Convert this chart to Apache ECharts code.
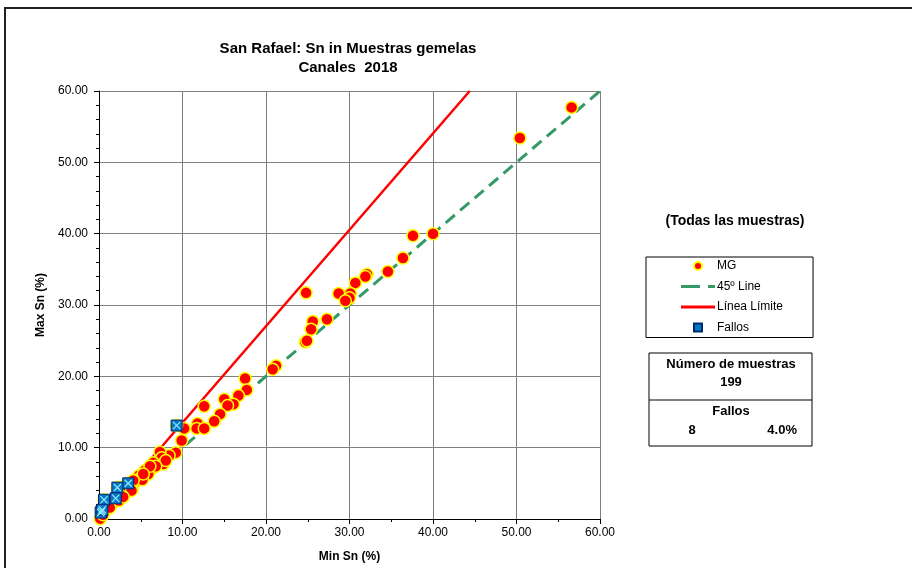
<!DOCTYPE html>
<html>
<head>
<meta charset="utf-8">
<script src="https://cdn.jsdelivr.net/npm/echarts@6/dist/echarts.min.js"></script>
<style>
  html, body { margin: 0; padding: 0; background: #fff; }
  #chart { width: 912px; height: 568px; }
</style>
</head>
<body>
<div id="chart"></div>
<script>
// Min Sn / Max Sn (%) of twin samples
const mgMin = [56.6, 50.4, 40.0, 37.6, 36.4, 34.6, 32.1, 31.9, 30.7, 30.1, 28.7, 30.0, 29.5, 24.8, 27.3, 25.6, 25.4, 24.7, 24.9,
  21.2, 20.8, 17.5, 17.7, 16.7, 15.0, 16.1, 15.4, 12.6, 14.5, 13.8, 11.8, 11.7, 12.6, 10.2,
  9.3, 9.9, 9.2, 8.4, 7.3, 7.5, 7.7, 6.5, 6.3, 5.5, 4.8, 4.8, 4.3, 3.5, 2.2, 2.8, 4.0, 3.2, 2.8, 2.0, 0.6,
  1.6, 1.0, 0.3, 0.15, 0.5, 1.3, 2.4, 3.6, 5.9, 8.0, 6.8, 5.2, 6.1, 5.3, 4.1, 3.9, 2.9]
const mgMax = [57.7, 53.4, 40.0, 39.7, 36.6, 34.7, 34.3, 34.0, 33.1, 31.6, 31.6, 31.0, 30.6, 31.7, 28.0, 27.7, 26.6, 24.8, 25.0,
  21.5, 21.0, 19.7, 18.1, 17.3, 16.8, 16.1, 15.9, 15.8, 14.7, 13.7, 13.4, 12.7, 12.7, 12.7,
  13.1, 11.0, 9.3, 8.9, 9.4, 8.6, 7.7, 7.9, 7.0, 6.8, 6.1, 5.6, 5.2, 5.0, 4.4, 4.5, 4.2, 3.8, 3.1, 2.9, 2.7,
  2.1, 1.4, 1.1, 0.05, 0.6, 1.6, 2.6, 4.0, 6.3, 8.2, 7.4, 5.5, 7.4, 6.3, 5.4, 4.0, 3.1]

const fallosMin = [9.3, 3.5, 2.2, 2.0, 0.6, 0.3, 0.2, 0.4]
const fallosMax = [13.1, 5.0, 4.4, 2.9, 2.7, 1.1, 0.9, 1.3]

const line45X = [0, 60]
const line45Y = [0, 60]
const limitX = [0, 44.4]
const limitY = [0, 60]

const axisTicks = [0, 10, 20, 30, 40, 50, 60]

const totalMuestras = 199
const totalFallos = 8

const FONT = 'Liberation Sans, Arial, sans-serif'

const pairs = (xs, ys) => xs.map((x, i) => [x, ys[i]])

const chart = echarts.init(document.getElementById('chart'))

const xPath = 'path://M1,0 L5,4 L9,0 L10,1 L6,5 L10,9 L9,10 L5,6 L1,10 L0,9 L4,5 L0,1 Z'
// legend icons
const dashIcon = 'path://M0,0 L19,0 L19,3 L0,3 Z M27,0 L34,0 L34,3 L27,3 Z'
const solidIcon = 'path://M0,0 L34,0 L34,3 L0,3 Z'
const squareIcon = 'path://M0,0 L7,0 L7,7 L0,7 Z'

const axisCommon = {
  type: 'value',
  min: axisTicks[0],
  max: axisTicks[axisTicks.length - 1],
  interval: 10,
  nameLocation: 'middle',
  nameTextStyle: { fontFamily: FONT, fontSize: 12, fontWeight: 'bold', color: '#000' },
  axisLine: { show: true, lineStyle: { color: '#000', width: 1 } },
  axisTick: { show: true, inside: false, length: 5, lineStyle: { color: '#000' } },
  minorTick: { show: true, length: 3, lineStyle: { color: '#000' } },
  splitLine: { show: true, lineStyle: { color: '#808080', width: 1 } },
  axisLabel: {
    fontFamily: FONT, fontSize: 12, color: '#000',
    formatter: (v) => v.toFixed(2)
  }
}

const option = {
  animation: false,
  backgroundColor: '#fff',
  title: {
    text: 'San Rafael: Sn in Muestras gemelas\nCanales  2018',
    left: 343,
    top: 34,
    textAlign: 'center',
    textStyle: { fontFamily: FONT, fontSize: 15, fontWeight: 'bold', color: '#000', lineHeight: 19 }
  },
  grid: { left: 99, right: 312, top: 91, bottom: 46 },
  xAxis: Object.assign({}, axisCommon, {
    name: 'Min Sn (%)',
    nameGap: 32,
    minorTick: Object.assign({}, axisCommon.minorTick, { splitNumber: 2 }),
    axisLabel: Object.assign({}, axisCommon.axisLabel, { margin: 8 })
  }),
  yAxis: Object.assign({}, axisCommon, {
    name: 'Max Sn (%)',
    nameGap: 48,
    minorTick: Object.assign({}, axisCommon.minorTick, { splitNumber: 5 }),
    axisLabel: Object.assign({}, axisCommon.axisLabel, { margin: 11 })
  }),
  legend: {
    orient: 'vertical',
    left: 646,
    top: 257,
    data: [
      { name: 'MG' },
      { name: '45º Line', icon: dashIcon },
      { name: 'Línea Límite', icon: solidIcon },
      { name: 'Fallos', icon: squareIcon }
    ],
    itemWidth: 34,
    itemHeight: 8,
    itemGap: 6.5,
    padding: [2, 30, 3, 35],
    borderColor: '#000',
    borderWidth: 1,
    borderRadius: 0,
    selectedMode: false,
    textStyle: { fontFamily: FONT, fontSize: 12, color: '#000', lineHeight: 14, padding: [0, 0, 0, -3] }
  },
  series: [
    {
      name: '45º Line',
      type: 'line',
      data: pairs(line45X, line45Y),
      showSymbol: false,
      symbol: 'none',
      z: 2,
      lineStyle: { color: '#339966', width: 3, type: [12, 7] },
      itemStyle: { color: '#339966' }
    },
    {
      name: 'Línea Límite',
      type: 'line',
      data: pairs(limitX, limitY),
      showSymbol: false,
      symbol: 'none',
      z: 2,
      lineStyle: { color: '#ff0000', width: 2.5 },
      itemStyle: { color: '#ff0000' }
    },
    {
      name: 'MG',
      type: 'scatter',
      data: pairs(mgMin, mgMax),
      symbol: 'circle',
      symbolSize: 12,
      z: 3,
      itemStyle: { color: '#ff0000', borderColor: '#ffff00', borderWidth: 1.5, opacity: 1 }
    },
    {
      name: 'Fallos',
      type: 'scatter',
      data: pairs(fallosMin, fallosMax),
      symbol: 'rect',
      symbolSize: 11,
      z: 4,
      itemStyle: { color: '#0b76c8', borderColor: '#002a6e', borderWidth: 1, opacity: 1 }
    },
    {
      name: 'FallosX',
      type: 'scatter',
      data: pairs(fallosMin, fallosMax),
      symbol: xPath,
      symbolSize: 8,
      z: 5,
      silent: true,
      itemStyle: { color: '#8ff3ff', opacity: 1 }
    }
  ],
  graphic: [
    {
      type: 'rect', z: 100, silent: true,
      shape: { x: 5, y: 8, width: 1000, height: 700 },
      style: { fill: 'none', stroke: '#222', lineWidth: 2 }
    },
    {
      type: 'text', z: 100,
      style: { x: 735, y: 214, text: '(Todas las muestras)', align: 'center', font: 'bold 14px ' + FONT, fill: '#000' }
    },
    {
      type: 'rect', z: 100, silent: true,
      shape: { x: 649, y: 353, width: 163, height: 93 },
      style: { fill: 'none', stroke: '#000', lineWidth: 1 }
    },
    {
      type: 'line', z: 100, silent: true,
      shape: { x1: 649, y1: 400, x2: 812, y2: 400 },
      style: { stroke: '#000', lineWidth: 1 }
    },
    {
      type: 'text', z: 100,
      style: { x: 731, y: 358, text: 'Número de muestras', align: 'center', font: 'bold 13px ' + FONT, fill: '#000' }
    },
    {
      type: 'text', z: 100,
      style: { x: 731, y: 376, text: String(totalMuestras), align: 'center', font: 'bold 13px ' + FONT, fill: '#000' }
    },
    {
      type: 'text', z: 100,
      style: { x: 731, y: 405, text: 'Fallos', align: 'center', font: 'bold 13px ' + FONT, fill: '#000' }
    },
    {
      type: 'text', z: 100,
      style: { x: 692, y: 424, text: String(totalFallos), align: 'center', font: 'bold 13px ' + FONT, fill: '#000' }
    },
    {
      type: 'text', z: 100,
      style: { x: 797, y: 424, text: (totalFallos / totalMuestras * 100).toFixed(1) + '%', align: 'right', font: 'bold 13px ' + FONT, fill: '#000' }
    }
  ]
}

chart.setOption(option)
</script>
</body>
</html>
